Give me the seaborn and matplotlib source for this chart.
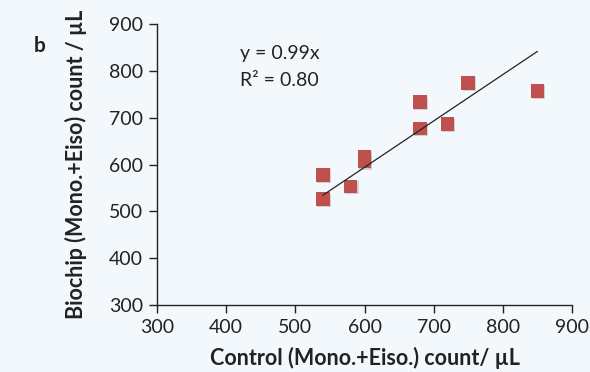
import matplotlib
matplotlib.use("Agg")
import matplotlib.pyplot as plt
import seaborn as sns
import numpy as np
import pandas as pd

# Paired counts: control method vs. biochip (Mono. + Eiso.) per µL
control = [540, 540, 580, 600, 600, 680, 680, 720, 750, 850]
biochip = [578, 526, 553, 617, 606, 733, 677, 686, 774, 757]
slope = 0.99
r_squared = 0.80
x_ticks = [300, 400, 500, 600, 700, 800, 900]
y_ticks = [300, 400, 500, 600, 700, 800, 900]

bg = "#f3f8fd"
sns.set_theme(style="ticks")
plt.rcParams["font.family"] = ["Lato", "DejaVu Sans"]

df = pd.DataFrame({"control": control, "biochip": biochip})

fig = plt.figure(figsize=(5.9, 3.72), dpi=100, facecolor=bg)
ax = fig.add_axes([157 / 590, 1 - 305 / 372, 415 / 590, 281 / 372])
ax.set_facecolor(bg)

# shadow layer under the square markers
sns.scatterplot(data=df, x="control", y="biochip", ax=ax, marker="s", s=95,
                color="#8f8f8f", alpha=0.35, edgecolor="none", legend=False,
                zorder=2)
for coll in ax.collections:
    coll.set_offset_transform(ax.transData + matplotlib.transforms.ScaledTranslation(
        1.2 / 100, -1.2 / 100, fig.dpi_scale_trans))
sns.scatterplot(data=df, x="control", y="biochip", ax=ax, marker="s", s=95,
                color="#c0504d", edgecolor="none", legend=False, zorder=3)

# linear trend through the origin
xs = np.array([min(control), max(control)])
sns.lineplot(x=xs, y=slope * xs, ax=ax, color="#222222", lw=0.9, zorder=4)

ax.set_xlim(300, 900)
ax.set_ylim(300, 900)
ax.set_xticks(x_ticks)
ax.set_yticks(y_ticks)
ax.tick_params(axis="both", direction="out", length=6, width=1, color="#222222",
               labelsize=14, labelcolor="#222222", pad=4)
for side in ["top", "right"]:
    ax.spines[side].set_visible(False)
for side in ["left", "bottom"]:
    ax.spines[side].set_color("#222222")
    ax.spines[side].set_linewidth(1)

ax.set_xlabel("Control (Mono.+Eiso.) count/ µL", fontsize=15.5, fontweight="bold",
              color="#222222", labelpad=8)
ax.set_ylabel("Biochip (Mono.+Eiso) count / µL", fontsize=15.5, fontweight="bold",
              color="#222222", labelpad=16)

ax.text(420, 837, "y = 0.99x", fontsize=14, color="#222222", va="center")
ax.text(420, 780, "R² = 0.80", fontsize=14, color="#222222", va="center")

fig.text(40 / 590, 1 - 46 / 372, "b", fontsize=15, fontweight="bold",
         color="#222222", ha="center", va="center")

fig.savefig("out.png", dpi=100, facecolor=bg)
